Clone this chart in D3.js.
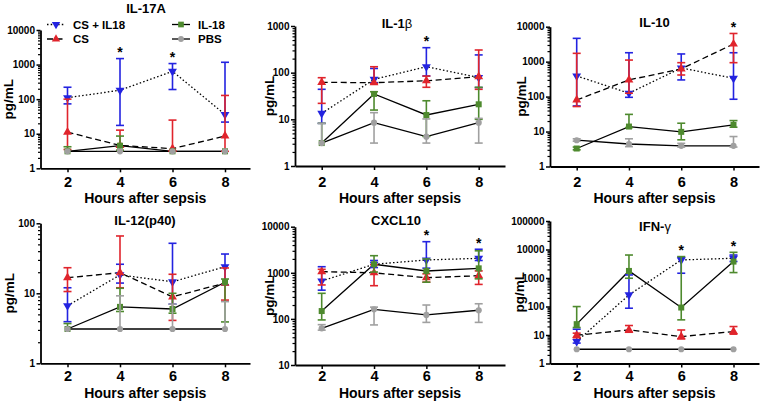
<!DOCTYPE html>
<html lang="en">
<head>
<meta charset="UTF-8">
<title>Cytokines after sepsis</title>
<script src="https://d3js.org/d3.v7.min.js"></script>
<style>
  body { margin: 0; background: #fff; }
  svg text { font-family: "Liberation Sans", Arial, Helvetica, sans-serif; font-weight: bold; fill: #000; }
</style>
</head>
<body>
<svg id="chart" width="762" height="402"></svg>
<script>
// sampling times and groups
const hours = [2, 4, 6, 8];
const groups = ['CS + IL18', 'CS', 'IL-18', 'PBS'];

// every table: one row per group (same order as groups), one column per hour
const il17aMean = [[110, 181, 640, 36], [11.1, 4.6, 3.7, 8.6], [3.1, 4.5, 3.1, 3.1], [3.1, 3.1, 3.1, 3.1]];
const il17aLow  = [[73, 17.4, 190, 21.7], [3.5, 3.3, 3.1, 3.1], [3.1, 3.3, 3.1, 3.1], [3.1, 3.1, 3.1, 3.1]];
const il17aHigh = [[221, 1490, 1070, 1165], [100, 12.7, 24.8, 128], [4.2, 8.55, 3.1, 3.1], [3.1, 3.1, 3.1, 3.1]];
const il17aStars = [4, 6];

const il1bMean = [[13.4, 72, 134, 79], [62, 61, 67, 82], [3.1, 35, 12.4, 21], [3.1, 8.5, 4.25, 8.5]];
const il1bLow  = [[8.2, 61, 85, 48], [22, 58, 48.6, 44], [3.1, 15.8, 4.3, 10], [3.1, 3.1, 3.1, 3.1]];
const il1bHigh = [[44, 123, 343, 240], [78, 134, 84.5, 306], [8.2, 39, 25, 48.6], [8.2, 13.9, 10.2, 10.5]];
const il1bStars = [6];

const il10Mean = [[390, 125, 660, 334], [80, 300, 620, 3200], [3.27, 13.9, 9.8, 15.5], [5.65, 4.4, 3.9, 3.9]];
const il10Low  = [[54, 95.5, 300, 84], [52, 125, 415, 935], [3.0, 13, 5.8, 13.3], [5.3, 3.7, 3.6, 3.6]];
const il10High = [[4640, 1800, 1660, 1800], [1730, 1110, 935, 6400], [3.6, 31, 17.3, 20.6], [6.2, 6.2, 4.6, 7.2]];
const il10Stars = [8];

const il12Mean = [[6.65, 18.3, 14.6, 24], [16.7, 19.7, 8.9, 14], [3.09, 6.4, 5.97, 14.4], [3.09, 3.09, 3.09, 3.09]];
const il12Low  = [[3.93, 14, 7.0, 13.2], [10.6, 12, 4.1, 8], [3.09, 5.5, 5.2, 3.9], [3.09, 3.09, 3.09, 3.09]];
const il12High = [[12, 26, 51.8, 36.4], [23.2, 65.9, 18.7, 23], [3.7, 11.8, 10, 16], [3.09, 9.2, 7.0, 7.6]];
const il12Stars = [];

const cxcl10Mean = [[664, 1530, 1900, 2060], [1060, 1000, 783, 865], [148, 1530, 1095, 1250], [62.5, 161, 122, 154]];
const cxcl10Low  = [[420, 1300, 1260, 1850], [545, 525, 626, 560], [95, 1040, 626, 740], [57, 74, 84, 84]];
const cxcl10High = [[1355, 1850, 4730, 3240], [1190, 1500, 950, 1100], [359, 2350, 2000, 3000], [75, 180, 200, 213]];
const cxcl10Stars = [6, 8];

const ifngMean = [[5.9, 255, 4300, 4930], [9.8, 15.1, 8.8, 13.2], [24, 1770, 92, 3760], [3.16, 3.16, 3.16, 3.16]];
const ifngLow  = [[5.2, 87, 1470, 3800], [8, 12.5, 7.3, 10.7], [18.3, 980, 34, 1550], [3.16, 3.16, 3.16, 3.16]];
const ifngHigh = [[16, 1280, 5300, 6400], [11.6, 21.5, 15, 19.8], [99.5, 6400, 5640, 7970], [3.16, 3.16, 3.16, 3.16]];
const ifngStars = [6, 8];

// look of each group
const colors = ['#2323e0', '#e0242c', '#4e8a2e', '#a0a0a0'];
const dashes = ['1.5,2.2', '6,3.5', null, null];
const symbols = [d3.symbolTriangle, d3.symbolTriangle, d3.symbolSquare, d3.symbolCircle];
const rotations = [180, 0, 0, 0];
const symSizes = [34, 34, 36, 30];

const svg = d3.select('#chart');

// panel placement
const panels = [
  { title: 'IL-17A', mean: il17aMean, low: il17aLow, high: il17aHigh, stars: il17aStars, yDomain: [1, 10000],
    left: 40.5, right: 250, x2: 67.5, x8: 225, top: 30, bottom: 168.3, titleX: 146, titleY: 12.5, labelX: 12.5, tickY: 187, xLabelY: 203 },
  { title: 'IL-1\u03b2', mean: il1bMean, low: il1bLow, high: il1bHigh, stars: il1bStars, yDomain: [1, 1000],
    left: 295, right: 505, x2: 321.7, x8: 478.7, top: 26, bottom: 166, titleX: 397, titleY: 28, labelX: 273.5, tickY: 187, xLabelY: 203 },
  { title: 'IL-10', mean: il10Mean, low: il10Low, high: il10High, stars: il10Stars, yDomain: [1, 10000],
    left: 550, right: 759, x2: 576.7, x8: 733.5, top: 26.7, bottom: 166.5, titleX: 654.5, titleY: 26.5, labelX: 525.5, tickY: 187, xLabelY: 203 },
  { title: 'IL-12(p40)', mean: il12Mean, low: il12Low, high: il12High, stars: il12Stars, yDomain: [1, 100],
    left: 40.5, right: 250, x2: 67.5, x8: 225, top: 223.3, bottom: 363.3, titleX: 145, titleY: 224.5, labelX: 14, tickY: 381, xLabelY: 397.5 },
  { title: 'CXCL10', mean: cxcl10Mean, low: cxcl10Low, high: cxcl10High, stars: cxcl10Stars, yDomain: [10, 10000],
    left: 295, right: 505, x2: 321.7, x8: 478.7, top: 226.7, bottom: 365, titleX: 396, titleY: 225, labelX: 273.5, tickY: 381, xLabelY: 397.5 },
  { title: 'IFN-\u03b3', mean: ifngMean, low: ifngLow, high: ifngHigh, stars: ifngStars, yDomain: [1, 100000],
    left: 550, right: 759, x2: 576.7, x8: 733.5, top: 221, bottom: 363.5, titleX: 655, titleY: 231, labelX: 523.5, tickY: 381, xLabelY: 397.5 }
];

function drawMarker(sel, gi, cx, cy, scale) {
  sel.append('path')
    .attr('d', d3.symbol().type(symbols[gi]).size(symSizes[gi] * (scale || 1))())
    .attr('transform', `translate(${cx},${cy}) rotate(${rotations[gi]})`)
    .attr('fill', colors[gi]);
}

function drawPanel(p) {
  const g = svg.append('g');
  const x = d3.scaleLinear().domain([2, 8]).range([p.x2, p.x8]);
  const y = d3.scaleLog().domain(p.yDomain).range([p.bottom, p.top]);

  // x axis runs past the first and last time point
  const xa = d3.scaleLinear().domain([x.invert(p.left), x.invert(p.right)]).range([p.left, p.right]);
  const gx = g.append('g').attr('transform', `translate(0,${p.bottom})`)
    .call(d3.axisBottom(xa).tickValues(hours).tickSize(4).tickSizeOuter(0).tickPadding(2));
  gx.select('.domain').attr('stroke-width', 1.8);
  gx.selectAll('.tick line').attr('stroke-width', 1.5);
  gx.selectAll('.tick text').attr('y', p.tickY - p.bottom).attr('dy', null)
    .style('font-size', '14.5px');

  // y axis: decades labelled, minor ticks between
  const lo = Math.log10(p.yDomain[0]), hi = Math.log10(p.yDomain[1]);
  const decades = d3.range(lo, hi + 1).map(e => Math.pow(10, e));
  const minor = [];
  decades.slice(0, -1).forEach(d => { for (let k = 2; k < 10; k++) minor.push(d * k); });

  const gyMinor = g.append('g').attr('transform', `translate(${p.left},0)`)
    .call(d3.axisLeft(y).tickValues(minor).tickSize(2.5).tickFormat(''));
  gyMinor.select('.domain').remove();
  gyMinor.selectAll('.tick line').attr('stroke-width', 1.2);

  const gy = g.append('g').attr('transform', `translate(${p.left},0)`)
    .call(d3.axisLeft(y).tickValues(decades).tickSize(4).tickSizeOuter(0).tickPadding(1.5).tickFormat(d3.format('d')));
  gy.select('.domain').attr('stroke-width', 1.8);
  gy.selectAll('.tick line').attr('stroke-width', 1.5);
  gy.selectAll('.tick text').style('font-size', '10px');

  // titles
  const t = g.append('text').attr('x', p.titleX).attr('y', p.titleY)
    .attr('text-anchor', 'middle').style('font-size', '13px');
  const m = p.title.match(/^(.*?)([\u03b1-\u03c9])$/);
  if (m) {
    t.append('tspan').text(m[1]);
    t.append('tspan').text(m[2]).style('font-weight', 'normal');
  } else {
    t.text(p.title);
  }

  g.append('text').attr('x', (p.left + p.right) / 2).attr('y', p.xLabelY)
    .attr('text-anchor', 'middle').style('font-size', '14px')
    .text('Hours after sepsis');

  g.append('text')
    .attr('transform', `translate(${p.labelX},${(p.top + p.bottom) / 2}) rotate(-90)`)
    .attr('text-anchor', 'middle').style('font-size', '13.5px')
    .text('pg/mL');

  // connecting lines (black)
  const line = d3.line().x((d, i) => x(hours[i])).y(d => y(d));
  groups.forEach((name, gi) => {
    g.append('path').datum(p.mean[gi])
      .attr('d', line)
      .attr('fill', 'none')
      .attr('stroke', '#000')
      .attr('stroke-width', 1.3)
      .attr('stroke-dasharray', dashes[gi]);
  });

  // error bars then symbols
  groups.forEach((name, gi) => {
    const eg = g.append('g');
    hours.forEach((h, i) => {
      const lowV = p.low[gi][i], highV = p.high[gi][i];
      const cx = x(h);
      if (highV > lowV) {
        eg.append('line').attr('x1', cx).attr('x2', cx)
          .attr('y1', y(lowV)).attr('y2', y(highV))
          .attr('stroke', colors[gi]).attr('stroke-width', 1.6);
        [lowV, highV].forEach(v => {
          if (Math.abs(y(v) - y(p.mean[gi][i])) > 0.5) {
            eg.append('line').attr('x1', cx - 4).attr('x2', cx + 4)
              .attr('y1', y(v)).attr('y2', y(v))
              .attr('stroke', colors[gi]).attr('stroke-width', 1.6);
          }
        });
      }
      drawMarker(eg, gi, cx, y(p.mean[gi][i]));
    });
  });

  // significance stars above the highest bar
  p.stars.forEach(h => {
    const i = hours.indexOf(h);
    const top = d3.max(groups, (n, gi) => p.high[gi][i]);
    g.append('text').attr('x', x(h)).attr('y', y(top) - 1.7)
      .attr('text-anchor', 'middle').style('font-size', '14px').text('*');
  });
}

panels.forEach(drawPanel);

// legend in the first panel
const legendItems = [
  { gi: 0, x: 47, y: 24.5 },
  { gi: 1, x: 47, y: 39 },
  { gi: 2, x: 172, y: 24.5 },
  { gi: 3, x: 172, y: 39 }
];
const lg = svg.append('g');
legendItems.forEach(it => {
  lg.append('line').attr('x1', it.x).attr('x2', it.x + 18)
    .attr('y1', it.y).attr('y2', it.y)
    .attr('stroke', '#000').attr('stroke-width', 1.3)
    .attr('stroke-dasharray', dashes[it.gi]);
  drawMarker(lg, it.gi, it.x + 9, it.y, 0.9);
  lg.append('text').attr('x', it.x + 26).attr('y', it.y + 4)
    .style('font-size', '11.5px').text(groups[it.gi]);
});
</script>
</body>
</html>
